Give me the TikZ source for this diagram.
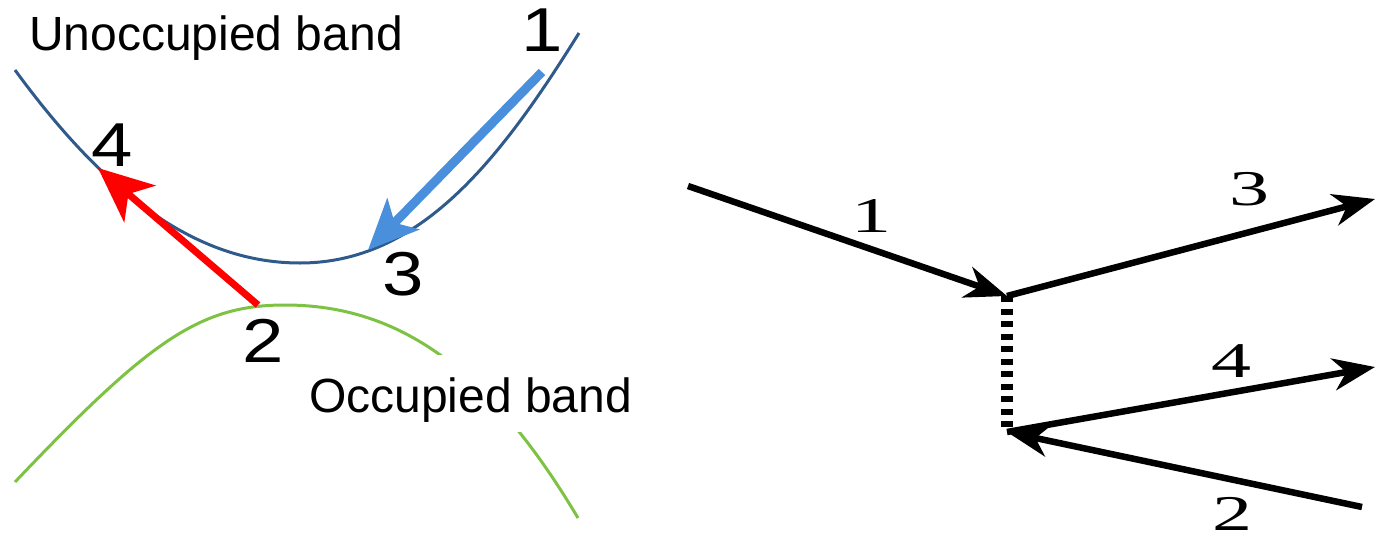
\documentclass[tikz,border=0pt]{standalone}
\usepackage{fontspec}
\setmainfont{Liberation Sans}
\newfontfamily\serifdig{Liberation Serif}
\usetikzlibrary{arrows.meta}
\definecolor{bandblue}{HTML}{2F5A8C}
\definecolor{arrblue}{HTML}{4A8FDB}
\definecolor{bandgreen}{HTML}{7DC242}
\begin{document}
\begin{tikzpicture}[x=1pt,y=-1pt,
  bandtext/.style={font=\fontsize{48}{48}\selectfont, inner sep=0pt, anchor=base west},
  lnum/.style={font=\fontsize{62}{62}\selectfont, inner sep=0pt},
  rnum/.style={font=\serifdig\fontsize{50}{50}\selectfont, inner sep=0pt},
  fey/.style={line width=6.5pt, draw=black, -{Stealth[length=42pt,width=32pt,inset=13pt]}}]
\useasboundingbox (0,0) rectangle (1375,541);
% ---------- left: bands ----------
\draw[bandblue, line width=3pt] (15,70) .. controls (110,200) and (200,263) .. (300,263)
  .. controls (420,263) and (500,160) .. (579,33);
\draw[bandgreen, line width=3pt] (15,482) .. controls (150,340) and (200,305) .. (285,305)
  .. controls (400,305) and (490,370) .. (578,518);
\fill[white] (292,355) rectangle (640,432);
\node[bandtext] (unocc) at (29,50) {Unoccupied band};
\node[bandtext] (occ) at (309,412) {Occupied band};
% points
\coordinate (p1) at (542,72);
\coordinate (p3) at (368,250);
\coordinate (p2) at (258,305);
\coordinate (p4) at (98,168);
\draw[arrblue, line width=9pt, -{Stealth[length=50pt,width=44pt,inset=12pt]}] (p1) -- (p3);
\draw[red, line width=7pt, -{Stealth[length=55pt,width=48pt,inset=15pt]}] (p2) -- (p4);
\node[lnum] (l1) at (542,30) {\scalebox{1.2}[1]{1}};
\node[lnum] (l4) at (112,145) {\scalebox{1.2}[1]{4}};
\node[lnum] (l3) at (403,274) {\scalebox{1.2}[1]{3}};
\node[lnum] (l2) at (263,341) {\scalebox{1.2}[1]{2}};
% ---------- right: diagram ----------
\coordinate (a1) at (688,186);
\coordinate (v1) at (1007,296);
\coordinate (v2) at (1007,432);
\coordinate (a3) at (1375,199);
\coordinate (a4) at (1375,367);
\coordinate (a2) at (1362,507);
\draw[fey] (a1) -- (v1);
\draw[fey] (v1) -- (a3);
\draw[fey] (v2) -- (a4);
\draw[fey] (a2) -- (v2);
\draw[line width=12pt, dash pattern=on 6pt off 6.5pt] (v1) -- (v2);
\node[rnum] (r1) at (871,216) {\scalebox{1.6}[1]{1}};
\node[rnum] (r3) at (1249,189) {\scalebox{1.6}[1]{3}};
\node[rnum] (r4) at (1231,361) {\scalebox{1.6}[1]{4}};
\node[rnum] (r2) at (1232,514) {\scalebox{1.6}[1]{2}};
\end{tikzpicture}
\end{document}
